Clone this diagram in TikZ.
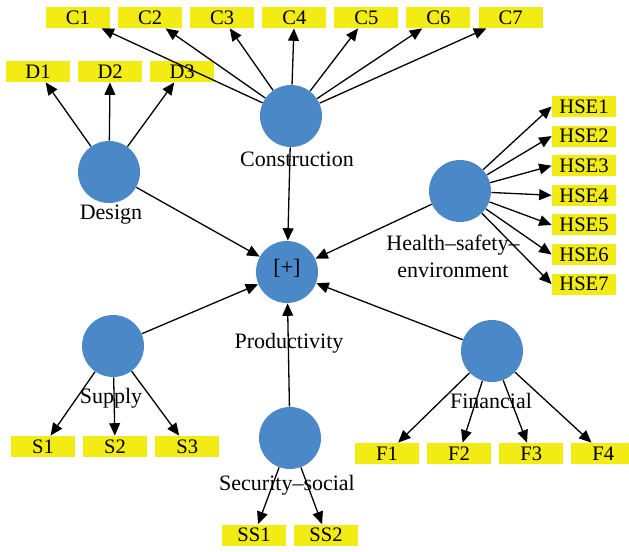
\documentclass[tikz,border=0pt]{standalone}
\usepackage{fontspec}
\setmainfont{Liberation Serif}
\usepackage{xcolor}
\usepackage{tikz}
\usetikzlibrary{arrows.meta,positioning}
\definecolor{lvblue}{HTML}{4A88C7}
\definecolor{itemyellow}{HTML}{F2EB14}

\begin{document}
\begin{tikzpicture}[
  x=0.5pt, y=-0.5pt,
  latent/.style={circle, fill=lvblue, minimum size=31pt, inner sep=0pt},
  item/.style={rectangle, fill=itemyellow, minimum width=32pt, minimum height=10.5pt, inner sep=0pt, font=\fontsize{10.3}{12}\selectfont},
  tag/.style={inner sep=0pt, align=center, font=\fontsize{11}{13.5}\selectfont},
  arrow/.style={-{Triangle[length=6.2pt, width=5.4pt]}, line width=0.65pt, draw=black}
]
\useasboundingbox (0,0) rectangle (629,552);

% latent variables
\node[latent] (design) at (109,172) {};
\node[latent] (constr) at (291,116) {};
\node[latent] (hse) at (460,191) {};
\node[latent] (prod) at (287,272) {};
\node[latent] (supply) at (113,346) {};
\node[latent] (secsoc) at (290,438) {};
\node[latent] (fin) at (492,351) {};

% indicators
\node[item] (c1) at (78,17.5) {C1};
\node[item, right=3.65pt of c1] (c2) {C2};
\node[item, right=3.65pt of c2] (c3) {C3};
\node[item, right=3.65pt of c3] (c4) {C4};
\node[item, right=3.65pt of c4] (c5) {C5};
\node[item, right=3.65pt of c5] (c6) {C6};
\node[item, right=3.65pt of c6] (c7) {C7};

\node[item] (d1) at (38,71.5) {D1};
\node[item, right=3.65pt of d1] (d2) {D2};
\node[item, right=3.65pt of d2] (d3) {D3};

\node[item] (h1) at (584,106.5) {HSE1};
\node[item, below=3.9pt of h1] (h2) {HSE2};
\node[item, below=3.9pt of h2] (h3) {HSE3};
\node[item, below=3.9pt of h3] (h4) {HSE4};
\node[item, below=3.9pt of h4] (h5) {HSE5};
\node[item, below=3.9pt of h5] (h6) {HSE6};
\node[item, below=3.9pt of h6] (h7) {HSE7};

\node[item] (s1) at (43,446.5) {S1};
\node[item, right=3.65pt of s1] (s2) {S2};
\node[item, right=3.65pt of s2] (s3) {S3};

\node[item] (f1) at (387,453.5) {F1};
\node[item, right=3.65pt of f1] (f2) {F2};
\node[item, right=3.65pt of f2] (f3) {F3};
\node[item, right=3.65pt of f3] (f4) {F4};

\node[item] (ss1) at (254,535) {SS1};
\node[item, right=3.65pt of ss1] (ss2) {SS2};

% structural paths
\draw[arrow] (design) -- (prod);
\draw[arrow] (constr) -- (prod);
\draw[arrow] (hse) -- (prod);
\draw[arrow] (supply) -- (prod);
\draw[arrow] (secsoc) -- (prod);
\draw[arrow] (fin) -- (prod);

% measurement paths
\draw[arrow] (design) -- (d1);
\draw[arrow] (design) -- (d2);
\draw[arrow] (design) -- (d3);
\draw[arrow] (constr) -- (c1);
\draw[arrow] (constr) -- (c2);
\draw[arrow] (constr) -- (c3);
\draw[arrow] (constr) -- (c4);
\draw[arrow] (constr) -- (c5);
\draw[arrow] (constr) -- (c6);
\draw[arrow] (constr) -- (c7);
\draw[arrow] (hse) -- (h1.west);
\draw[arrow] (hse) -- (h2.west);
\draw[arrow] (hse) -- (h3.west);
\draw[arrow] (hse) -- (h4.west);
\draw[arrow] (hse) -- (h5.west);
\draw[arrow] (hse) -- (h6.west);
\draw[arrow] (hse) -- (h7.west);
\draw[arrow] (supply) -- (s1);
\draw[arrow] (supply) -- (s2);
\draw[arrow] (supply) -- (s3);
\draw[arrow] (fin) -- (f1);
\draw[arrow] (fin) -- (f2);
\draw[arrow] (fin) -- (f3);
\draw[arrow] (fin) -- (f4);
\draw[arrow] (secsoc) -- (ss1);
\draw[arrow] (secsoc) -- (ss2);

% names
\node[tag] (plus) at (287,268) {[+]};
\node[tag] (design-l) at (111,215) {Design};
\node[tag] (constr-l) at (297,159) {Construction};
\node[tag] (hse-l) at (453,256) {Health--safety--\\environment};
\node[tag] (prod-l) at (289,343) {Productivity};
\node[tag] (supply-l) at (111,398) {Supply};
\node[tag] (secsoc-l) at (287,485) {Security--social};
\node[tag] (fin-l) at (491,401) {Financial};
\end{tikzpicture}
\end{document}
